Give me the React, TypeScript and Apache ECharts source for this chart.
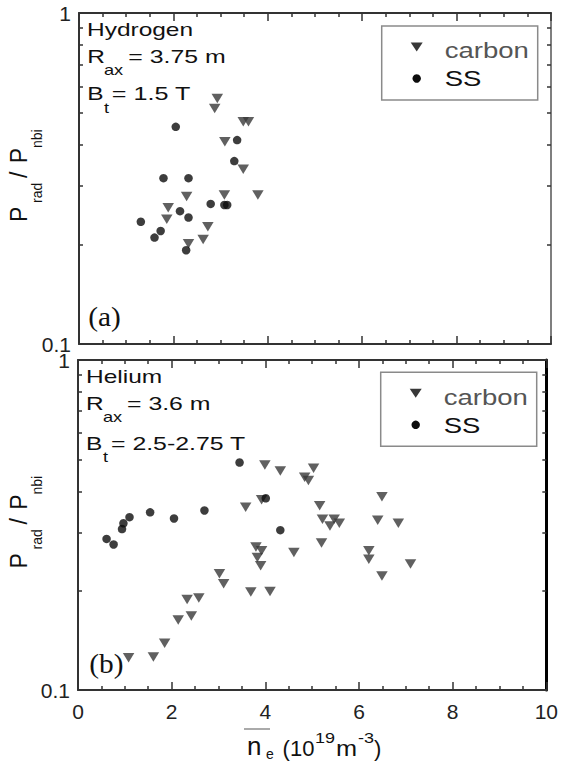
import React, { useEffect, useRef } from "react";
import * as echarts from "echarts";

// ---- data (x: n_e in 1e19 m^-3, y: P_rad / P_nbi) ----
const hydrogenCarbon: [number, number][] = [
  [2.93, 0.552], [2.875, 0.515], [3.48, 0.469], [3.59, 0.469], [3.09, 0.408],
  [3.48, 0.337], [2.28, 0.279], [3.08, 0.282], [3.79, 0.282], [1.89, 0.258],
  [1.86, 0.238], [2.73, 0.226], [2.63, 0.207], [2.32, 0.201],
];
const hydrogenSS: [number, number][] = [
  [2.05, 0.453], [3.35, 0.413], [3.29, 0.357], [1.79, 0.317], [2.32, 0.317],
  [2.79, 0.265], [3.08, 0.263], [3.14, 0.263], [2.14, 0.252], [2.32, 0.241],
  [1.31, 0.234], [1.73, 0.2195], [1.6, 0.2096], [2.27, 0.192],
];
const heliumCarbon: [number, number][] = [
  [3.99, 0.481], [4.32, 0.461], [5.03, 0.47], [4.84, 0.441], [4.92, 0.431],
  [3.92, 0.377], [3.58, 0.358], [5.16, 0.362], [5.22, 0.329], [5.47, 0.329],
  [5.38, 0.314], [5.58, 0.32], [5.2, 0.279], [4.61, 0.261], [3.8, 0.271],
  [3.92, 0.264], [3.83, 0.252], [3.9, 0.238], [3.02, 0.225], [3.11, 0.21],
  [3.69, 0.198], [4.1, 0.199], [2.58, 0.19], [2.33, 0.188], [2.42, 0.1676],
  [2.14, 0.163], [1.85, 0.1385], [1.08, 0.1253], [1.61, 0.126],
  [6.49, 0.385], [6.4, 0.327], [6.84, 0.32], [6.21, 0.264], [6.21, 0.249],
  [7.1, 0.241], [6.49, 0.2215],
];
const heliumSS: [number, number][] = [
  [3.45, 0.489], [4.01, 0.381], [2.7, 0.35], [4.32, 0.305], [0.61, 0.287],
  [0.76, 0.276], [0.94, 0.3075], [0.97, 0.32], [1.1, 0.334], [1.54, 0.3455],
  [2.05, 0.331],
];
const yMinorTicks = [0.2, 0.3, 0.4, 0.5, 0.6, 0.7, 0.8, 0.9];
const yLabelValues = [0.1, 1];
const seriesNames = ["carbon", "SS"];

const SANS = "'Liberation Sans', Arial, Helvetica, sans-serif";
const SERIF = "'Liberation Serif', 'Times New Roman', serif";
const CARBON_COLOR = "#383838";
const SS_COLOR = "#0d0d0d";

function t(text: string, x: number, baseline: number, fs: number, o: any = {}) {
  return {
    type: "text",
    x,
    y: baseline - 0.35 * fs,
    scaleX: o.sx ?? 1,
    silent: true,
    style: {
      text,
      fontSize: fs,
      fontFamily: o.ff ?? SANS,
      fill: o.fill ?? "#111",
      align: "left",
      verticalAlign: "middle",
    },
  };
}

function yName(x: number, y: number) {
  return {
    type: "group",
    x,
    y,
    rotation: Math.PI / 2,
    children: [
      t("P", 0, 0, 23),
      t("rad", 19, 15, 14),
      t("/", 44, 0, 23),
      t("P", 58.7, 0, 23),
      t("nbi", 74, 15, 14),
    ],
  };
}

function legendBox(x0: number, y0: number) {
  const tx = x0 + 35, ty = y0 + 21, cy = y0 + 52.5;
  return [
    { type: "rect", shape: { x: x0, y: y0, width: 156, height: 74 }, style: { fill: "#fff", stroke: "#8a8a8a", lineWidth: 1.5 }, silent: true },
    { type: "polygon", shape: { points: [[tx - 6, ty - 4.5], [tx + 6, ty - 4.5], [tx, ty + 4.5]] }, style: { fill: CARBON_COLOR }, silent: true },
    { type: "circle", shape: { cx: tx, cy, r: 4.2 }, style: { fill: SS_COLOR }, silent: true },
    t(seriesNames[0], x0 + 63, y0 + 32, 22, { sx: 1.25, fill: "#555" }),
    t(seriesNames[1], x0 + 63, y0 + 60, 22, { sx: 1.25, fill: "#111" }),
  ];
}

function xAxisCfg(grid: number, position: string, showLabel: boolean) {
  return {
    gridIndex: grid,
    type: "value",
    position,
    min: 0,
    max: 10,
    interval: 2,
    axisLine: { show: true, onZero: false, lineStyle: { color: "#333", width: 2 } },
    axisTick: { show: true, inside: true, length: 8, lineStyle: { color: "#333", width: 1.5 } },
    minorTick: { show: true, splitNumber: 4, length: 4, lineStyle: { color: "#333", width: 1.5 } },
    splitLine: { show: false },
    minorSplitLine: { show: false },
    axisLabel: {
      show: showLabel,
      margin: 11,
      fontSize: 21,
      fontFamily: SANS,
      color: "#222",
    },
  };
}

function yAxisCfg(grid: number, position: string, showLabel: boolean, lineColor: string, lineWidth: number) {
  return {
    gridIndex: grid,
    type: "log",
    logBase: 10,
    position,
    min: 0.1,
    max: 1,
    axisLine: { show: true, onZero: false, lineStyle: { color: lineColor, width: lineWidth } },
    axisTick: { show: true, inside: true, length: 4, customValues: yMinorTicks, lineStyle: { color: "#333", width: 1.5 } },
    splitLine: { show: false },
    axisLabel: {
      show: showLabel,
      customValues: yLabelValues,
      margin: 8,
      fontSize: 21,
      lineHeight: 16,
      fontFamily: SANS,
      color: "#222",
      formatter: (v: number) => (Math.abs(v - 1) < 1e-9 ? "1" : "0.1"),
    },
  };
}

function scatter(name: string, data: [number, number][], axis: number) {
  const isCarbon = name === seriesNames[0];
  return {
    type: "scatter",
    name,
    xAxisIndex: axis,
    yAxisIndex: axis,
    data,
    symbol: isCarbon ? "triangle" : "circle",
    symbolRotate: isCarbon ? 180 : 0,
    symbolSize: isCarbon ? [11.5, 9.5] : 8.5,
    itemStyle: { color: isCarbon ? CARBON_COLOR : SS_COLOR },
    z: isCarbon ? 3 : 4,
  };
}

export default function App() {
  const ref = useRef<HTMLDivElement>(null);
  useEffect(() => {
    if (!ref.current) return;
    const chart = echarts.init(ref.current, null, { renderer: "svg" });
    const option: any = {
      animation: false,
      backgroundColor: "#fff",
      grid: [
        { left: 79, top: 13, width: 472, height: 331 },
        { left: 78, top: 360, width: 473, height: 330 },
      ],
      xAxis: [
        xAxisCfg(0, "bottom", false),
        xAxisCfg(0, "top", false),
        xAxisCfg(1, "bottom", true),
        xAxisCfg(1, "top", false),
      ],
      yAxis: [
        yAxisCfg(0, "left", true, "#333", 2),
        yAxisCfg(0, "right", false, "#555", 1.5),
        yAxisCfg(1, "left", true, "#333", 2),
        yAxisCfg(1, "right", false, "#000", 3),
      ],
      series: [
        scatter("carbon", hydrogenCarbon, 0),
        scatter("SS", hydrogenSS, 0),
        scatter("carbon", heliumCarbon, 2),
        scatter("SS", heliumSS, 2),
      ],
      graphic: [
        // panel (a) annotations
        t("Hydrogen", 87, 36, 18, { sx: 1.36 }),
        t("R", 87.3, 63.3, 18, { sx: 1.36 }),
        t("ax", 104, 75, 14, { sx: 1.3 }),
        t("= 3.75 m", 128.3, 63.3, 18, { sx: 1.38 }),
        t("B", 87.3, 100, 18, { sx: 1.36 }),
        t("t", 104, 113, 14, { sx: 1.3 }),
        t("= 1.5 T", 111.7, 100, 18, { sx: 1.4 }),
        t("(a)", 88.3, 326.5, 28, { ff: SERIF, sx: 1.05 }),
        // panel (b) annotations
        t("Helium", 86, 383.3, 18, { sx: 1.36 }),
        t("R", 86, 410, 18, { sx: 1.36 }),
        t("ax", 103, 422, 14, { sx: 1.3 }),
        t("= 3.6 m", 127, 410, 18, { sx: 1.38 }),
        t("B", 86, 450, 18, { sx: 1.36 }),
        t("t", 103, 462, 14, { sx: 1.3 }),
        t("= 2.5-2.75 T", 111, 450, 18, { sx: 1.38 }),
        t("(b)", 89.3, 673.3, 28, { ff: SERIF, sx: 1.05 }),
        // legends
        ...legendBox(381.7, 26),
        ...legendBox(380.7, 372.3),
        // y axis names
        yName(26.7, 222),
        yName(26.7, 568.5),
        // x axis name: overline n_e (10^19 m^-3)
        { type: "line", shape: { x1: 244, y1: 729, x2: 270, y2: 729 }, style: { stroke: "#aaa", lineWidth: 2 }, silent: true },
        t("n", 247, 755, 26),
        t("e", 266, 759, 14),
        t("(10", 282.6, 756, 22),
        t("19", 315, 743, 15, { sx: 1.2 }),
        t("m", 336, 756, 22, { sx: 1.15 }),
        t("-3", 358, 743, 15, { sx: 1.2 }),
        t(")", 374, 756, 22),
      ],
    };
    chart.setOption(option);
    return () => chart.dispose();
  }, []);
  return (
    <div
      ref={ref}
      style={{ position: "fixed", left: 0, top: 0, width: 561, height: 763, background: "#fff" }}
    />
  );
}
